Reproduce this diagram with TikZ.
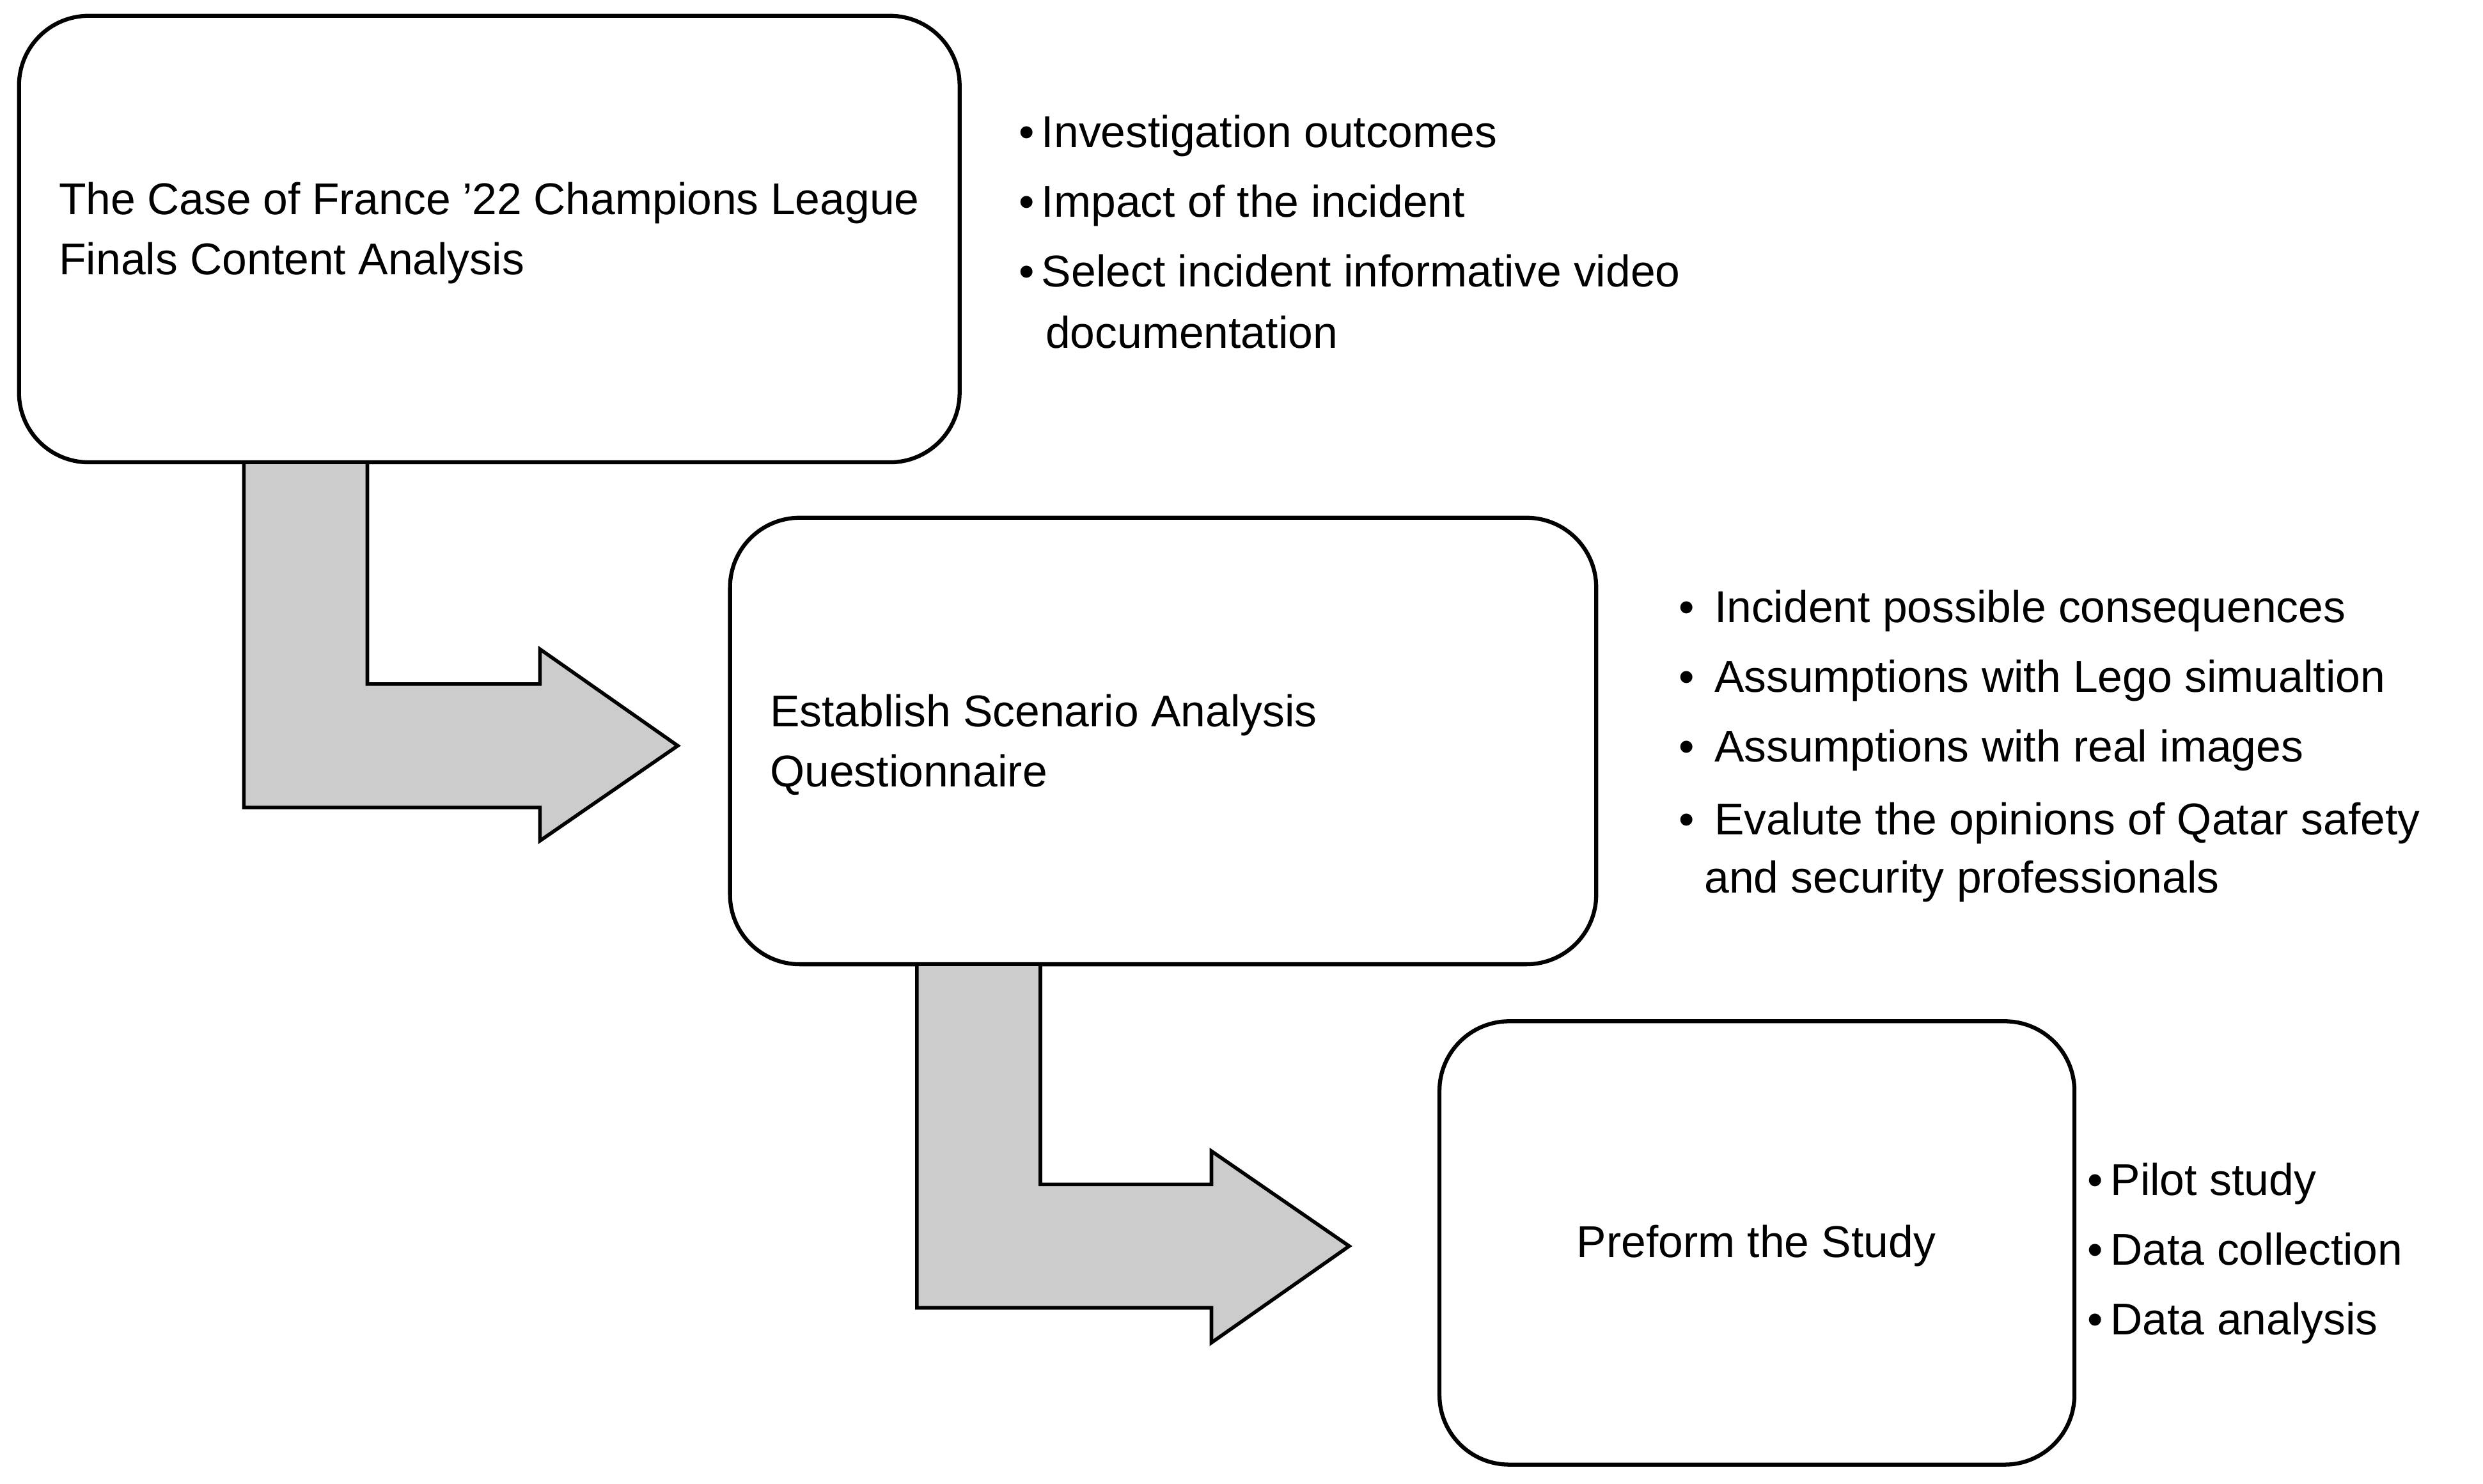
\documentclass[tikz,border=0pt]{standalone}
\usepackage{fontspec}
\setmainfont{Liberation Sans}
\begin{document}
\begin{tikzpicture}[x=0.025cm,y=-0.025cm,
  box/.style={draw=black,line width=1.8pt,rounded corners=1.1cm,fill=white},
  arr/.style={draw=black,line width=1.6pt,fill=black!20},
  txt/.style={anchor=base west,inner sep=0pt,font=\fontsize{20}{27}\selectfont}]
\useasboundingbox (0,0) rectangle (1568,937);
\draw[box] (12,10) rectangle (606,292);
\draw[box] (461,327) rectangle (1008,609);
\draw[box] (909,645) rectangle (1310,925);
\draw[arr] (154,292)--(232,292)--(232,432)--(341,432)--(341,410)--(428,471)--(341,531)--(341,510)--(154,510)--cycle;
\draw[arr] (579,609)--(657,609)--(657,748)--(765,748)--(765,727)--(852,787)--(765,848)--(765,826)--(579,826)--cycle;
\node[txt,anchor=north west,text width=13.58cm,align=justify] (b1) at (37,115) {The Case of France ’22 Champions League Finals Content Analysis};
\node[txt] (b2a) at (486,459) {Establish Scenario Analysis};
\node[txt] (b2b) at (486,497) {Questionnaire};
\node[txt,anchor=base] (b3) at (1109,794) {Preform the Study};
\node[txt] (l1a) at (643,93) {•\,Investigation outcomes};
\node[txt] (l1b) at (643,137) {•\,Impact of the incident};
\node[txt] (l1c) at (643,181) {•\,Select incident informative video};
\node[txt] (l1d) at (660,220) {documentation};
\node[txt] (l2a) at (1060,393) {•~\,Incident possible consequences};
\node[txt] (l2b) at (1060,437) {•~\,Assumptions with Lego simualtion};
\node[txt] (l2c) at (1060,481) {•~\,Assumptions with real images};
\node[txt] (l2d) at (1060,527) {•~\,Evalute the opinions of Qatar safety};
\node[txt] (l2e) at (1076,564) {and security professionals};
\node[txt] (l3a) at (1318,755) {•\,Pilot study};
\node[txt] (l3b) at (1318,799) {•\,Data collection};
\node[txt] (l3c) at (1318,843) {•\,Data analysis};
\end{tikzpicture}
\end{document}
